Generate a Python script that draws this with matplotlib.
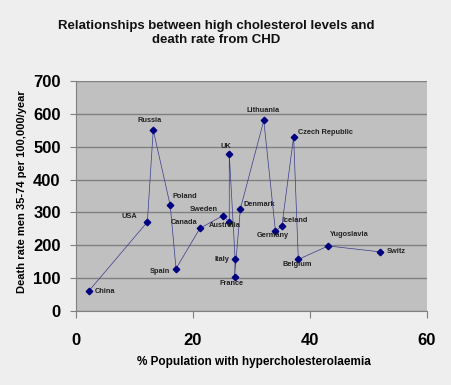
import matplotlib.pyplot as plt

# data (ordered as the line is drawn)
countries = ['China', 'USA', 'Russia', 'Poland', 'Spain', 'Canada', 'Sweden',
             'Australia', 'UK', 'Italy', 'France', 'Denmark', 'Lithuania',
             'Germany', 'Iceland', 'Czech Republic', 'Belgium', 'Yugoslavia',
             'Switz']
pct_hyper = [2.2, 12.2, 13.2, 16.1, 17.1, 21.2, 25.1, 26.2, 26.2, 27.2, 27.1,
             28.1, 32.1, 34.1, 35.2, 37.2, 38.0, 43.1, 52.0]
death_rate = [61, 271, 551, 322, 129, 252, 290, 272, 478, 158, 103, 311, 580,
              242, 260, 530, 157, 198, 180]

x_ticks = [0, 20, 40, 60]
y_ticks = [0, 100, 200, 300, 400, 500, 600, 700]

# label placement: (dx px, dy px, ha)
label_pos = {
    'China': (6, -1, 'left'), 'USA': (-10, 5, 'right'),
    'Russia': (-4, 9, 'center'), 'Poland': (2, 9, 'left'),
    'Spain': (-6, -3, 'right'), 'Canada': (-3, 6, 'right'),
    'Sweden': (-5, 6, 'right'), 'Australia': (-5, -4, 'center'),
    'UK': (-3, 7, 'center'), 'Italy': (-6, 0, 'right'),
    'France': (-3, -6, 'center'), 'Denmark': (3, 4, 'left'),
    'Lithuania': (-1, 10, 'center'), 'Germany': (-3, -4, 'center'),
    'Iceland': (1, 5, 'left'), 'Czech Republic': (4, 4, 'left'),
    'Belgium': (-1, -5, 'center'), 'Yugoslavia': (2, 11, 'left'),
    'Switz': (7, 0, 'left'),
}

plt.rcParams['font.family'] = ['Liberation Sans', 'DejaVu Sans']

fig = plt.figure(figsize=(4.51, 3.85), dpi=100, facecolor='#EEEEEE')
ax = fig.add_axes([76 / 451, 1 - 311 / 385, 351 / 451, 230 / 385])
ax.set_facecolor('#C0C0C0')

ax.plot(pct_hyper, death_rate, color='#3a3a8c', lw=0.5, zorder=3)
ax.plot(pct_hyper, death_rate, ls='none', marker='D', markersize=3.3,
        color='#000080', zorder=3)
for name, x, y in zip(countries, pct_hyper, death_rate):
    dx, dy, ha = label_pos[name]
    ax.annotate(name, (x, y), xytext=(dx, dy), textcoords='offset pixels',
                ha=ha, va='center', fontsize=5.3, fontweight='bold',
                color='#222222', zorder=4)

ax.set_xlim(0, 60)
ax.set_ylim(0, 700)
ax.set_xticks(x_ticks)
ax.set_yticks(y_ticks)
ax.yaxis.grid(True, color='#808080', lw=1)
ax.set_axisbelow(True)
for s in ['top', 'right']:
    ax.spines[s].set_visible(False)
for s in ['left', 'bottom']:
    ax.spines[s].set_color('#808080')
ax.tick_params(axis='y', length=4, pad=7, color='#808080',
               labelsize=12, labelcolor='black')
ax.tick_params(axis='x', length=5, pad=11, color='#808080',
               labelsize=12, labelcolor='black')
for lab in ax.get_xticklabels() + ax.get_yticklabels():
    lab.set_fontweight('bold')

fig.text(216 / 451, 1 - 33 / 385,
         'Relationships between high cholesterol levels and\ndeath rate from CHD',
         ha='center', va='center', fontsize=9.5, fontweight='bold',
         linespacing=1.3, color='#111111')
fig.text(254 / 451, 1 - 362 / 385, '% Population with hypercholesterolaemia',
         ha='center', va='center', fontsize=8.5, fontweight='bold')
fig.text(22.5 / 451, 1 - 192 / 385, 'Death rate men 35-74 per 100,000/year',
         ha='center', va='center', rotation=90, fontsize=8, fontweight='bold')

fig.savefig('out.png', dpi=100, facecolor=fig.get_facecolor())
